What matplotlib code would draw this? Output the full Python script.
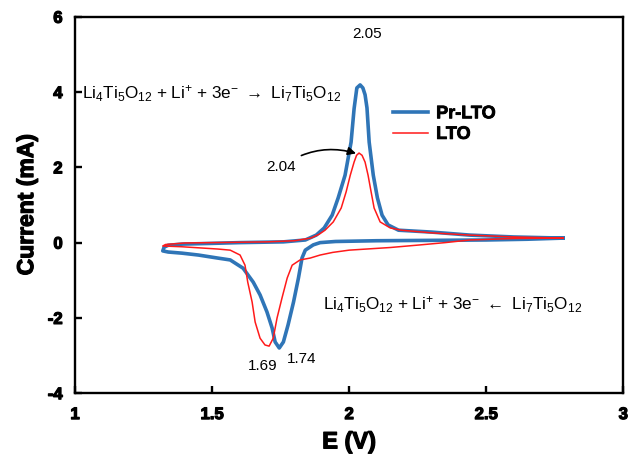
import numpy as np
import matplotlib
matplotlib.use("Agg")
import matplotlib.pyplot as plt
import matplotlib.patheffects as pe

plt.rcParams['font.family'] = ['Liberation Sans', 'DejaVu Sans']
plt.rcParams['font.weight'] = 'bold'
plt.rcParams['mathtext.fontset'] = 'custom'
plt.rcParams['mathtext.rm'] = 'Liberation Sans:normal'
plt.rcParams['mathtext.it'] = 'Liberation Sans:italic'
plt.rcParams['mathtext.bf'] = 'Liberation Sans:bold'

# Pr-LTO cyclic voltammogram (cathodic sweep from 2.78 V, then anodic back)
pr_E = [2.78, 2.65, 2.50, 2.30, 2.10, 1.95, 1.894, 1.869, 1.84, 1.828, 1.815, 1.797,
        1.777, 1.76, 1.745, 1.73, 1.719, 1.70, 1.675, 1.65, 1.613, 1.566, 1.52, 1.45,
        1.39, 1.34, 1.32,
        1.325, 1.34, 1.39, 1.50, 1.60, 1.76, 1.84, 1.88, 1.909, 1.938, 1.96, 1.985,
        2.007, 2.018, 2.028, 2.04, 2.05, 2.058, 2.065, 2.073, 2.088, 2.103, 2.12,
        2.142, 2.18, 2.30, 2.44, 2.60, 2.78]
pr_I = [0.12, 0.09, 0.07, 0.06, 0.05, 0.03, 0.00, -0.06, -0.20, -0.41, -0.94, -1.58,
        -2.19, -2.64, -2.80, -2.64, -2.27, -1.84, -1.39, -1.05, -0.68, -0.46, -0.41, -0.33,
        -0.28, -0.25, -0.22,
        -0.12, -0.07, -0.04, -0.02, 0.00, 0.02, 0.07, 0.20, 0.39, 0.73, 1.19, 1.79,
        2.67, 3.56, 4.11, 4.19, 4.11, 3.93, 3.58, 2.67, 1.79, 1.19, 0.73,
        0.47, 0.33, 0.28, 0.20, 0.15, 0.12]

# LTO cyclic voltammogram
lto_E = [2.78, 2.60, 2.44, 2.35, 2.26, 2.15, 2.00, 1.94, 1.894, 1.858, 1.821, 1.792,
         1.774, 1.755, 1.737, 1.723, 1.708, 1.693, 1.675, 1.657, 1.646, 1.63, 1.62, 1.602,
         1.566, 1.52, 1.39, 1.32,
         1.33, 1.40, 1.50, 1.70, 1.80, 1.86, 1.89, 1.912, 1.942, 1.971, 1.989, 2.004,
         2.018, 2.027, 2.036, 2.047, 2.058, 2.069, 2.08, 2.091, 2.113, 2.15, 2.19, 2.30,
         2.44, 2.60, 2.78]
lto_I = [0.12, 0.11, 0.07, 0.00, -0.06, -0.13, -0.20, -0.26, -0.33, -0.41, -0.46, -0.60,
         -0.94, -1.47, -2.00, -2.54, -2.75, -2.72, -2.54, -2.11, -1.58, -1.05, -0.60, -0.33,
         -0.20, -0.17, -0.11, -0.09,
         -0.05, -0.01, 0.00, 0.02, 0.05, 0.12, 0.22, 0.33, 0.55, 0.92, 1.35, 1.79,
         2.14, 2.32, 2.38, 2.32, 2.14, 1.79, 1.35, 0.92, 0.55, 0.39, 0.33, 0.26,
         0.20, 0.15, 0.12]

x_ticks = [1, 1.5, 2, 2.5, 3]
x_labels = ['1', '1.5', '2', '2.5', '3']
y_ticks = [-4, -2, 0, 2, 4, 6]
y_labels = ['-4', '-2', '0', '2', '4', '6']

blue = '#2f75b7'
red = '#ff1a1a'
heavy = [pe.withStroke(linewidth=0.9, foreground='black')]

fig = plt.figure(figsize=(6.36, 4.54), dpi=100)
ax = fig.add_axes([0.118, 0.134, 0.862, 0.829])

ax.plot(pr_E, pr_I, color=blue, lw=2.6, solid_joinstyle='round', label='Pr-LTO', zorder=2)
ax.plot(lto_E, lto_I, color=red, lw=1.1, solid_joinstyle='round', label='LTO', zorder=3)

ax.set_xlim(1, 3)
ax.set_ylim(-4, 6)
ax.set_xticks(x_ticks)
ax.set_xticklabels(x_labels, fontweight='bold', path_effects=heavy)
ax.set_yticks(y_ticks)
ax.set_yticklabels(y_labels, fontweight='bold', path_effects=heavy)
for s in ax.spines.values():
    s.set_linewidth(1.7)
ax.tick_params(axis='both', direction='in', length=5, width=1.7,
               labelsize=12, top=False, right=False)
ax.tick_params(axis='x', pad=10)
ax.tick_params(axis='y', pad=9)

ax.set_xlabel('E (V)', fontsize=17, fontweight='bold', labelpad=6, path_effects=heavy)
ax.set_ylabel('Current (mA)', fontsize=16.5, fontweight='bold', labelpad=7,
              path_effects=heavy)

leg = ax.legend(loc='center left', bbox_to_anchor=(0.55, 0.715), frameon=False,
                handlelength=1.95, handletextpad=0.45, labelspacing=0.2,
                prop={'weight': 'bold', 'size': 13})
for t in leg.get_texts():
    t.set_path_effects([pe.withStroke(linewidth=0.6, foreground='black')])

eq_fwd = r'Li$_4$Ti$_5$O$_{12}$ + Li$^{+}$ + 3e$^{-}$ $\rightarrow$ Li$_7$Ti$_5$O$_{12}$'
eq_rev = r'Li$_4$Ti$_5$O$_{12}$ + Li$^{+}$ + 3e$^{-}$ $\leftarrow$ Li$_7$Ti$_5$O$_{12}$'
ax.text(1.025, 3.95, eq_fwd, fontsize=12.3, fontweight='normal', va='center', ha='left')
ax.text(1.905, -1.65, eq_rev, fontsize=12.3, fontweight='normal', va='center', ha='left')

ax.text(2.065, 5.55, '2.05', fontsize=11, fontweight='normal', ha='center', va='center')
ax.text(1.774, -2.9, '1.74', fontsize=11, fontweight='normal', ha='left', va='top')
ax.text(1.685, -3.1, '1.69', fontsize=11, fontweight='normal', ha='center', va='top')
ax.annotate('2.04', xy=(2.03, 2.36), xytext=(1.752, 2.01), fontsize=11,
            fontweight='normal', ha='center', va='center',
            arrowprops=dict(arrowstyle='-|>', color='black', lw=1.2,
                            shrinkA=3, shrinkB=1, mutation_scale=12,
                            connectionstyle='arc3,rad=-0.25'))

fig.savefig('out.png', dpi=100)
